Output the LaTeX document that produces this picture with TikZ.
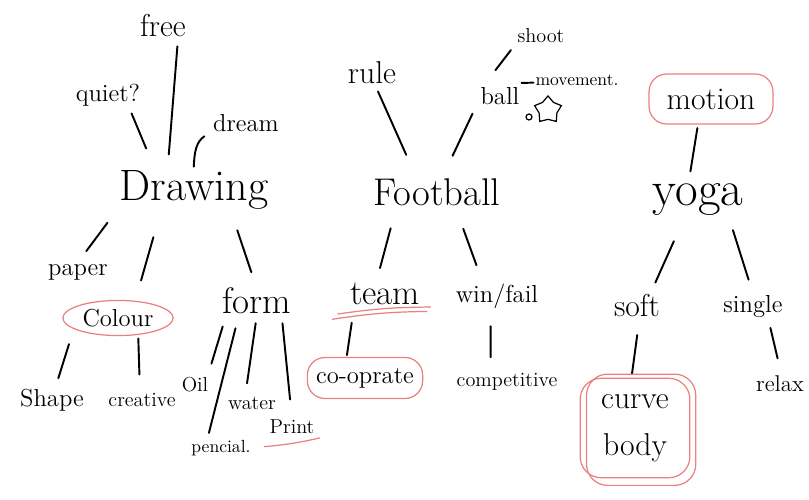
\documentclass[tikz,border=0pt]{standalone}
\usetikzlibrary{shapes.geometric}
\definecolor{penred}{RGB}{234,128,128}
\begin{document}
\begin{tikzpicture}[
  x=0.02cm, y=-0.02cm,
  link/.style={line width=1.1pt, line cap=round},
  topic/.style={font=\fontsize{#1}{#1}\selectfont, inner sep=5pt},
  sub/.style={font=\fontsize{18}{23}\selectfont, inner sep=4pt},
  word/.style={font=\fontsize{14}{16}\selectfont, inner sep=4pt},
  small/.style={font=\fontsize{11.5}{13}\selectfont, inner sep=3pt},
  redpen/.style={draw=penred, line width=0.7pt}
]
\useasboundingbox (0,0) rectangle (809,500);
% Drawing
\node[topic=25] (drawing) at (194,190) {Drawing};
\node[sub] (free) at (163,26) {free};
\node[word] (quiet) at (108,95) {quiet?};
\node[word] (dream) at (246,123) {dream};
\node[word] (paper) at (78,272) {paper};
\node[word,ellipse,redpen,inner sep=2pt] (colour) at (118,318) {Colour};
\node[sub,font=\fontsize{21}{23}\selectfont] (form) at (257,301) {form};
\node[word] (shape) at (52,400) {Shape};
\node[small] (creative) at (142,400) {creative};
\node[small] (oil) at (195,385) {Oil};
\node[small] (water) at (252,403) {water};
\node[small,font=\fontsize{10}{12}\selectfont] (pencial) at (221,448) {pencial.};
\node[small] (print) at (292,427) {Print};
\draw[link,shorten <=4pt,shorten >=1pt] (drawing.132) -- (free.-52);
\draw[link,shorten <=8pt] (drawing.146) -- (quiet.-38);
\draw[link,shorten <=-3pt,shorten >=1pt] (drawing.north) to[out=88,in=-145] (dream.197);
\draw[link,shorten <=3pt,shorten >=4pt] (drawing.south west) -- (paper.75);
\draw[link,shorten <=11pt,shorten >=12pt] (drawing.-141) -- (colour.45);
\draw[link,shorten <=7pt,shorten >=5pt] (drawing.-36) -- (form.98);
\draw[link,shorten <=9pt,shorten >=2pt] (colour.-166) -- (shape.74);
\draw[link,shorten <=2pt,shorten >=7.5pt] (colour.-40) -- (creative.100);
\draw[link,shorten <=3pt,shorten >=5pt] (form.-148) -- (oil.43);
\draw[link,shorten <=4pt,shorten >=1pt] (form.-134) -- (pencial.133);
\draw[link,shorten <=1pt,shorten >=4.5pt] (form.-93) -- (water.117);
\draw[link,shorten <=1pt,shorten >=8.5pt] (form.-39) -- (print.92);
\draw[redpen] ([yshift=-4pt]print.south west) to[bend right=4] ([yshift=1pt]print.south east);
% Football
\node[topic=22] (football) at (437,192) {Football};
\node[sub] (rule) at (372,73) {rule};
\node[word] (ball) at (500,96) {ball};
\node[small] (shoot) at (541,36) {shoot};
\node[small,font=\fontsize{10}{12}\selectfont] (movement) at (577,80) {movement.};
\node[star,star points=5,draw,line width=0.7pt,minimum size=16pt,inner sep=0pt] (doodle) at (548,110) {};
\node[circle,draw,line width=0.7pt,inner sep=1.2pt] (dot) at (529,117) {};
\node[sub,font=\fontsize{20}{22}\selectfont] (team) at (385,294) {team};
\node[word] (winfail) at (497,296) {win/fail};
\node[word,redpen,rounded corners=10pt,inner xsep=5pt,inner ysep=6pt] (coop) at (365,378) {co-oprate};
\node[small] (competitive) at (507,382) {competitive};
\draw[link,shorten <=9pt] (football.137) -- (rule.-72);
\draw[link,shorten <=8.5pt,shorten >=1pt] (football.68) -- (ball.-149);
\draw[link,shorten <=7pt,shorten >=1pt] (ball.127) -- (shoot.south west);
\draw[link] ([xshift=-3pt,yshift=-1.7pt]ball.north east) -- ([xshift=2pt,yshift=-1.5pt]movement.west);
\draw[link,shorten <=8pt,shorten >=4.5pt] (football.-152) -- (team.111);
\draw[link,shorten <=8.5pt,shorten >=6.7pt] (football.-47) -- (winfail.130);
\draw[link,shorten <=6pt,shorten >=1pt] (team.-150) -- (coop.131);
\draw[link,shorten <=6pt,shorten >=6pt] (winfail.-108) -- (competitive.139);
\draw[redpen] ([xshift=-3pt,yshift=-1pt]team.south west) to[bend left=4] ([xshift=2pt,yshift=3pt]team.south east);
\draw[redpen] ([xshift=-6pt,yshift=-4pt]team.south west) to[bend left=4] ([yshift=0.5pt]team.south east);
% Yoga
\node[sub,redpen,rounded corners=10pt,inner xsep=10pt,minimum height=1cm] (motion) at (711,99) {motion};
\node[topic=28] (yoga) at (698,200) {yoga};
\node[sub] (soft) at (637,306) {soft};
\node[word] (single) at (753,306) {single};
\node[sub,font=\fontsize{18}{27}\selectfont,align=center,redpen,rounded corners=12pt,inner xsep=12pt,inner ysep=9pt] (curve) at (635,428) {curve\\body};
\node[word,font=\fontsize{13}{15}\selectfont] (relax) at (780,384) {relax};
\draw[link,shorten <=2pt,shorten >=2pt] (motion.-117) -- (yoga.108);
\draw[link,shorten <=10pt,shorten >=3pt] (yoga.-124) -- (soft.49);
\draw[link,shorten <=3pt,shorten >=4.7pt] (yoga.-37) -- (single.96);
\draw[link,shorten <=2pt,shorten >=6pt] (single.-48) -- (relax.90);
\draw[link,shorten <=6pt,shorten >=2pt] (soft.-85) -- (curve.94);
\draw[redpen,rounded corners=12pt] ([xshift=4pt,yshift=-4pt]curve.south west) rectangle ([xshift=3pt,yshift=2pt]curve.north east);
\end{tikzpicture}
\end{document}
